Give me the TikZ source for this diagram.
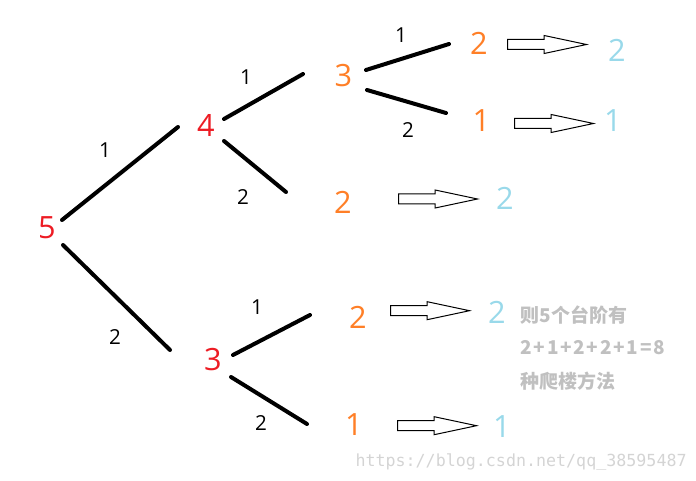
\documentclass[tikz,border=0pt]{standalone}
\usepackage{fontspec}
\setmainfont{Open Sans}
\setmonofont{DejaVu Sans Mono}
\newfontfamily\cjk{Noto Sans CJK SC}
\newfontfamily\cjkwide{Noto Sans CJK SC}[LetterSpace=9]
\usetikzlibrary{calc,shapes.arrows}
\definecolor{numred}{RGB}{237,28,36}
\definecolor{numorange}{RGB}{255,127,39}
\definecolor{numblue}{RGB}{153,217,234}
\definecolor{notegray}{RGB}{192,192,192}
\definecolor{markgray}{RGB}{212,212,212}
\tikzset{every picture/.style={line width=0.75pt}}
\tikzset{
  num/.style={inner sep=0pt, font=\fontsize{23}{27}\selectfont},
  steplabel/.style={inner sep=0pt, font=\fontsize{15.5}{18}\selectfont},
  branch/.style={line width=3pt, line cap=round},
  hollowarrow/.style={draw, single arrow, anchor=tail, single arrow tip angle=24,
    single arrow head extend=3pt, inner xsep=0pt, inner ysep=3.375pt,
    minimum height=59.25pt, minimum width=12.75pt},
  notetext/.style={anchor=west, inner sep=0pt, text=notegray,
    font=\cjk\bfseries\fontsize{14.25}{17}\selectfont}
}

\begin{document}
\begin{tikzpicture}[x=0.75pt,y=0.75pt,yscale=-1,xscale=1]
\path[use as bounding box] (0,0) rectangle (696,481);

% Steps left
\draw (47,228) node (n5) [num, text=numred] {5};
\draw (206,125) node (n4) [num, text=numred] {4};
\draw (213,360) node (n3) [num, text=numred] {3};
% Steps left after two moves
\draw (343.5,76) node (o3) [num, text=numorange] {3};
\draw (479,43.5) node (o2t) [num, text=numorange] {2};
\draw (481.5,121) node (o1t) [num, text=numorange] {1};
\draw (343,202) node (o2m) [num, text=numorange] {2};
\draw (358,317) node (o2b) [num, text=numorange] {2};
\draw (354,425) node (o1b) [num, text=numorange] {1};
% Ways to finish
\draw (617,50) node (b1) [num, text=numblue] {2};
\draw (613,121) node (b2) [num, text=numblue] {1};
\draw (505,198) node (b3) [num, text=numblue] {2};
\draw (497,312) node (b4) [num, text=numblue] {2};
\draw (502,427) node (b5) [num, text=numblue] {1};

% Branches
\draw [branch] ($(n5)+(15,-8)$) -- ($(n4)+(-28,2)$);
\draw [branch] ($(n5)+(16,17)$) -- ($(n3)+(-43,-10)$);
\draw [branch] ($(n4)+(18,-6)$) -- ($(o3)+(-40.5,-2)$);
\draw [branch] ($(n4)+(18,16)$) -- ($(o2m)+(-57,-10)$);
\draw [branch] ($(o3)+(22.5,-6)$) -- ($(o2t)+(-30,0.5)$);
\draw [branch] ($(o3)+(23.5,14)$) -- ($(o1t)+(-35.5,-8)$);
\draw [branch] ($(n3)+(20,-5)$) -- ($(o2b)+(-48,-2)$);
\draw [branch] ($(n3)+(18,17)$) -- ($(o1b)+(-47,-1)$);

% Branch labels
\draw (105,150) node (l1) [steplabel] {1};
\draw (115,337) node (l2) [steplabel] {2};
\draw (246,77) node (l3) [steplabel] {1};
\draw (243,197) node (l4) [steplabel] {2};
\draw (401,35) node (l5) [steplabel] {1};
\draw (408,130) node (l6) [steplabel] {2};
\draw (257,307) node (l7) [steplabel] {1};
\draw (261,423) node (l8) [steplabel] {2};

% Hollow arrows
\draw (507,44.5) node (arr1) [hollowarrow] {};
\draw (514,123.5) node (arr2) [hollowarrow] {};
\draw (398,199) node (arr3) [hollowarrow] {};
\draw (390,310.7) node (arr4) [hollowarrow] {};
\draw (397,425.7) node (arr5) [hollowarrow] {};

% Note
\draw (520,315) node (note1) [notetext] {则5个台阶有};
\draw (520,348) node (note2) [notetext, font=\cjkwide\bfseries\fontsize{14.25}{17}\selectfont] {2+1+2+2+1=8};
\draw (520,381) node (note3) [notetext] {种爬楼方法};

% Watermark
\draw (355,462) node (mark) [anchor=west, inner sep=0pt, text=markgray,
  font=\ttfamily\fontsize{12.5}{15}\selectfont] {https://blog.csdn.net/qq\_38595487};

\end{tikzpicture}
\end{document}
